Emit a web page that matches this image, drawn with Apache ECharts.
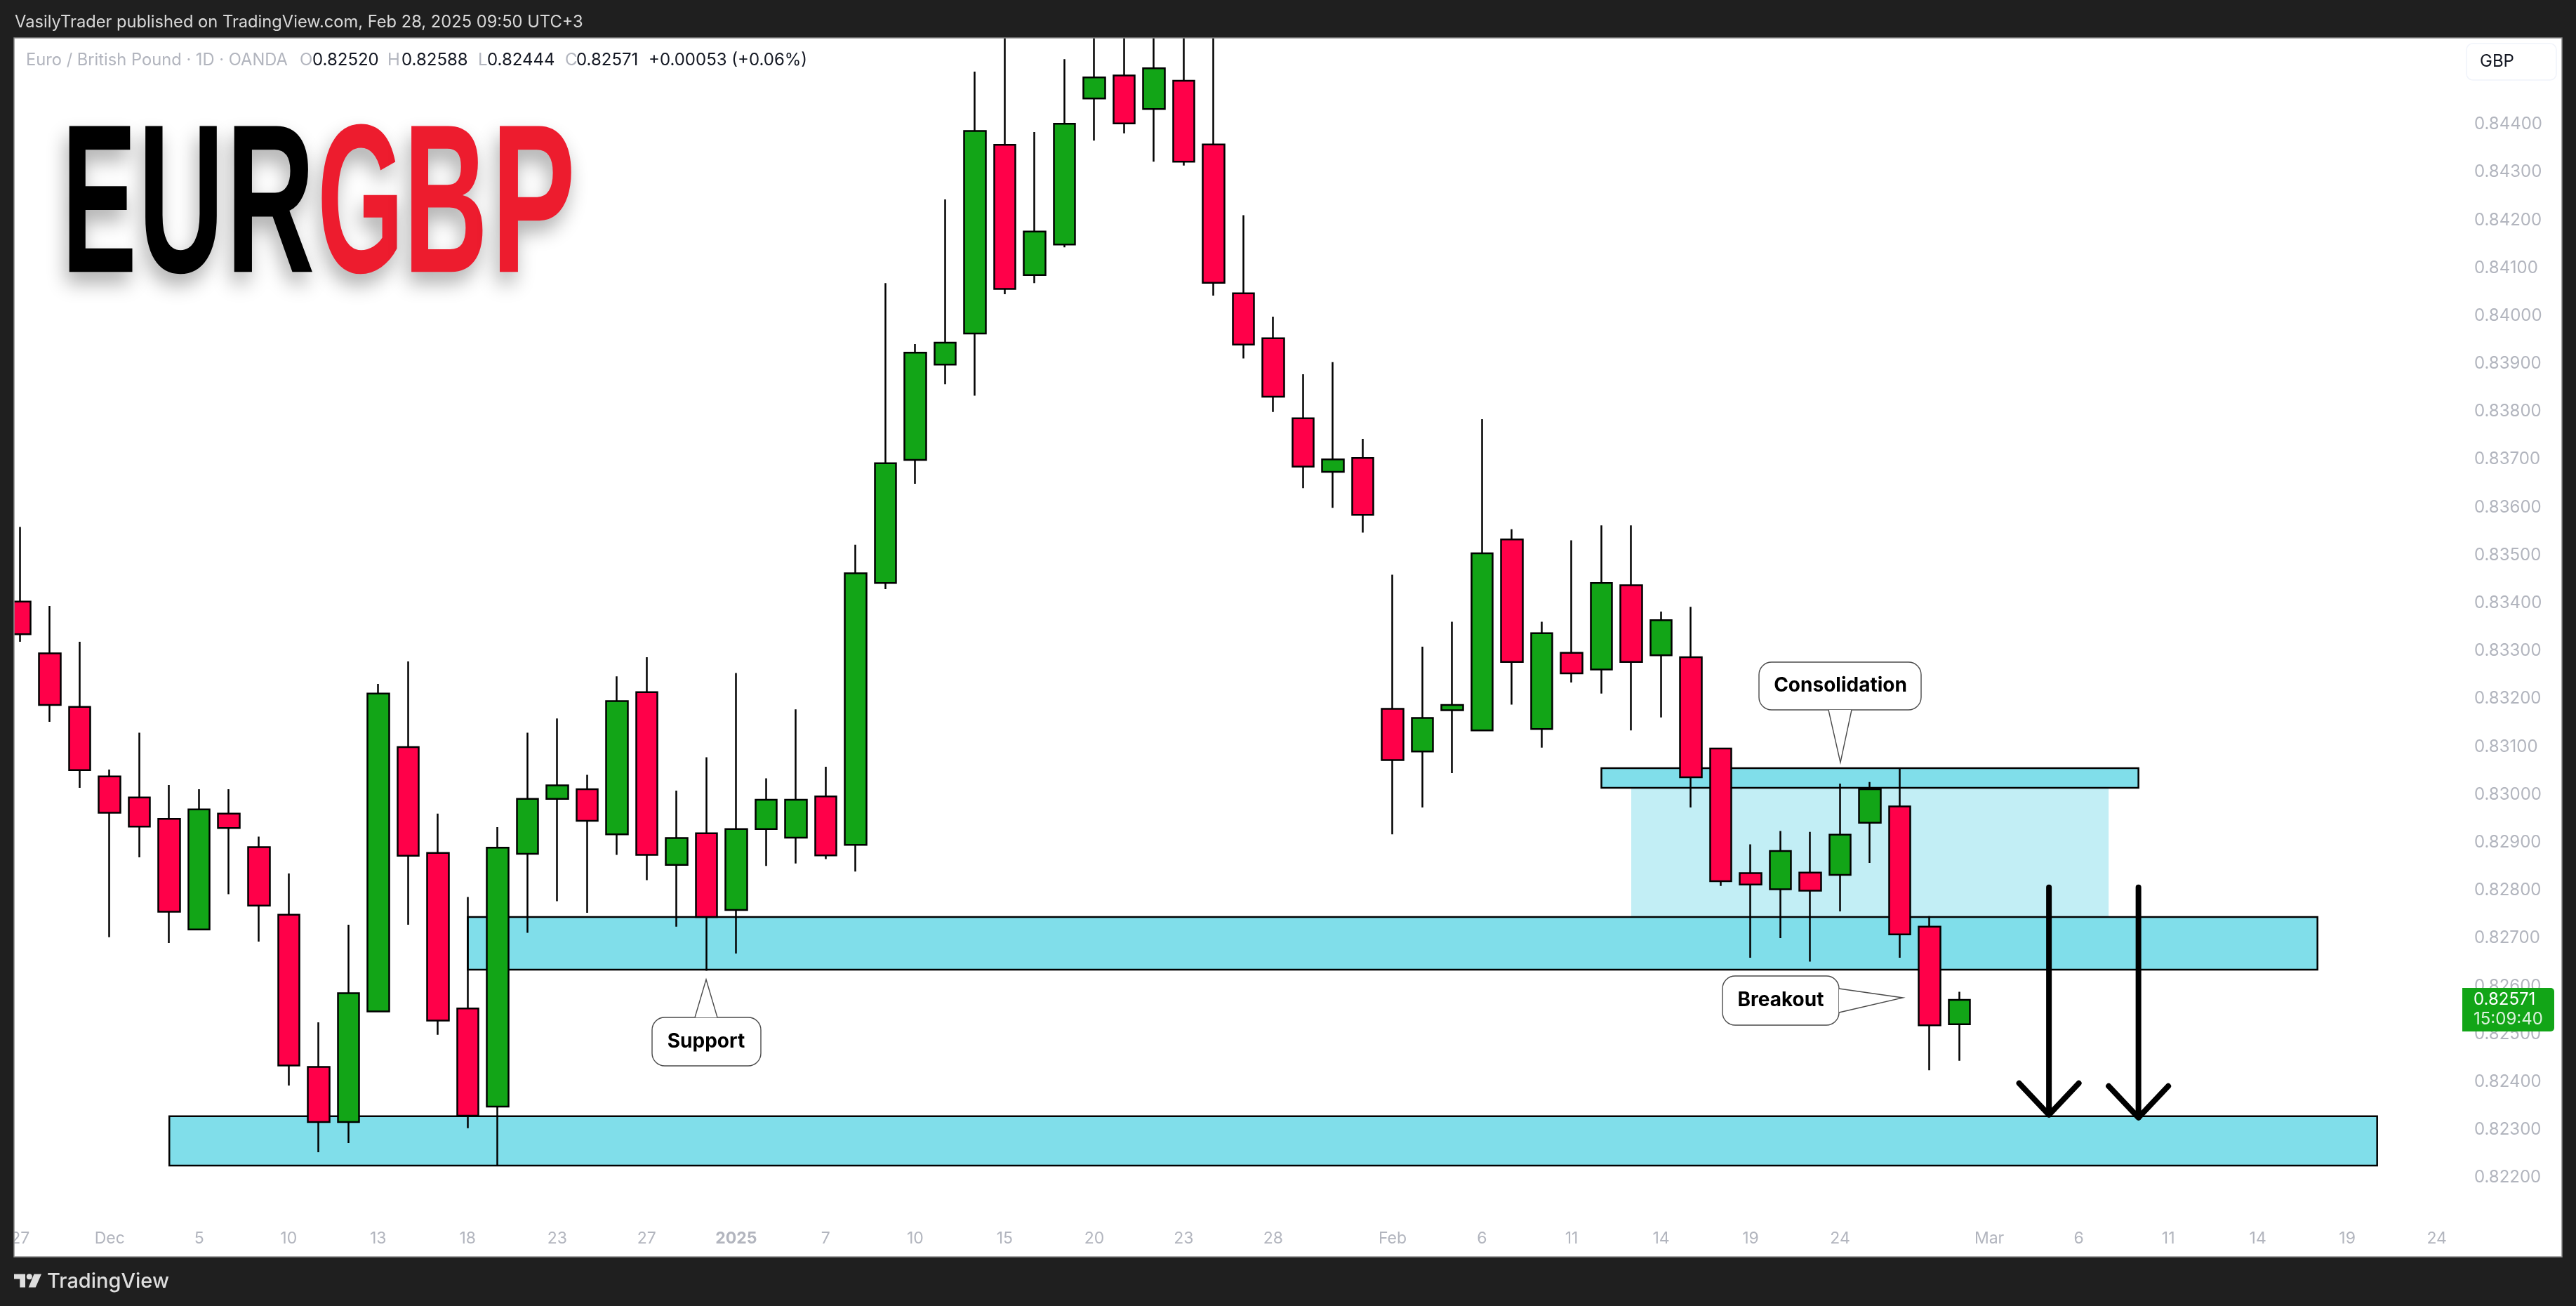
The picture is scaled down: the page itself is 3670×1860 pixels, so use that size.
<!DOCTYPE html>
<html>
<head>
<meta charset="utf-8">
<title>EURGBP</title>
<style>
    html, body { margin: 0; padding: 0; background: #1f1f1f; }
    #main { width: 3670px; height: 1860px; }
</style>
<script src="https://cdn.jsdelivr.net/npm/echarts@6/dist/echarts.min.js"></script>
</head>
<body>
<div id="main"></div>
<script>
// daily bars, Nov 27 2024 to Feb 28 2025
var opens = [.83403,.83295,.83183,.83038,.82994,.82949,.82718,.82960,.82890,.82749,.82431,.82316,.82547,.83099,.82878,.82553,.82348,.82876,.82991,.83011,.82917,.83214,.82853,.82919,.82759,.82928,.82910,.82996,.82895,.83442,.83699,.83898,.83963,.84357,.84085,.84149,.84454,.84502,.84432,.84491,.84358,.84047,.83953,.83786,.83674,.83703,.83179,.83090,.83176,.83134,.83533,.83137,.83296,.83261,.83437,.83291,.83287,.83096,.82836,.82802,.82837,.82832,.82941,.82975,.82724,.82520];
var closes = [.83335,.83187,.83051,.82962,.82933,.82755,.82969,.82930,.82768,.82434,.82316,.82585,.83211,.82872,.82528,.82329,.82889,.82991,.83019,.82945,.83195,.82874,.82909,.82744,.82928,.82989,.82989,.82873,.83462,.83692,.83923,.83944,.84386,.84056,.84176,.84401,.84498,.84402,.84517,.84322,.84069,.83940,.83831,.83685,.83700,.83584,.83072,.83160,.83187,.83504,.83277,.83337,.83253,.83442,.83277,.83364,.83036,.82819,.82812,.82882,.82799,.82916,.83011,.82708,.82518,.82571];
var lows = [.83319,.83152,.83014,.82702,.82869,.82690,.82718,.82792,.82693,.82392,.82253,.82272,.82547,.82728,.82498,.82303,.82226,.82711,.82777,.82753,.82874,.82821,.82724,.82632,.82668,.82851,.82856,.82865,.82839,.83429,.83649,.83857,.83833,.84045,.84068,.84143,.84366,.84381,.84322,.84314,.84042,.83911,.83799,.83640,.83599,.83547,.82917,.82973,.83045,.83134,.83188,.83098,.83234,.83211,.83134,.83161,.82973,.82809,.82659,.82700,.82651,.82756,.82857,.82659,.82424,.82444];
var highs = [.83559,.83394,.83319,.83052,.83129,.83020,.83011,.83011,.82912,.82835,.82524,.82728,.83231,.83278,.82960,.82786,.82932,.83129,.83159,.83041,.83247,.83287,.83008,.83078,.83254,.83034,.83178,.83058,.83522,.84068,.83941,.84243,.84510,.84650,.84384,.84536,.84640,.84650,.84660,.84630,.84660,.84210,.83998,.83878,.83903,.83743,.83459,.83309,.83361,.83784,.83554,.83361,.83531,.83562,.83562,.83382,.83392,.83096,.82896,.82924,.82922,.83023,.83026,.83054,.82746,.82588];

// trading days, then the empty days the time scale runs on to
var categories = ['2024-11-27','2024-11-28','2024-11-29','2024-12-02','2024-12-03','2024-12-04','2024-12-05','2024-12-06','2024-12-09','2024-12-10','2024-12-11','2024-12-12','2024-12-13','2024-12-16','2024-12-17','2024-12-18','2024-12-19','2024-12-20','2024-12-23','2024-12-24','2024-12-26','2024-12-27','2024-12-30','2024-12-31','2025-01-02','2025-01-03','2025-01-06','2025-01-07','2025-01-08','2025-01-09','2025-01-10','2025-01-13','2025-01-14','2025-01-15','2025-01-16','2025-01-17','2025-01-20','2025-01-21','2025-01-22','2025-01-23','2025-01-24','2025-01-27','2025-01-28','2025-01-29','2025-01-30','2025-01-31','2025-02-03','2025-02-04','2025-02-05','2025-02-06','2025-02-07','2025-02-10','2025-02-11','2025-02-12','2025-02-13','2025-02-14','2025-02-17','2025-02-18','2025-02-19','2025-02-20','2025-02-21','2025-02-24','2025-02-25','2025-02-26','2025-02-27','2025-02-28','2025-03-03','2025-03-04','2025-03-05','2025-03-06','2025-03-07','2025-03-10','2025-03-11','2025-03-12','2025-03-13','2025-03-14','2025-03-17','2025-03-18','2025-03-19','2025-03-20','2025-03-21','2025-03-24'];
var timeTicks = ['2024-11-27','2024-12-02','2024-12-05','2024-12-10','2024-12-13','2024-12-18','2024-12-23','2024-12-27','2025-01-02','2025-01-07','2025-01-10','2025-01-15','2025-01-20','2025-01-23','2025-01-28','2025-02-03','2025-02-06','2025-02-11','2025-02-14','2025-02-19','2025-02-24','2025-03-03','2025-03-06','2025-03-11','2025-03-14','2025-03-19','2025-03-24'];
var timeLabels = ['27','Dec','5','10','13','18','23','27','2025','7','10','15','20','23','28','Feb','6','11','14','19','24','Mar','6','11','14','19','24'];
var priceTicks = [.822,.823,.824,.825,.826,.827,.828,.829,.83,.831,.832,.833,.834,.835,.836,.837,.838,.839,.84,.841,.842,.843,.844];

// zones: [from day, to day, top price, bottom price]
var zoneSupport = ['2024-12-18','2025-03-18',.82744,.82634];
var zoneTarget = ['2024-12-04','2025-03-20',.82328,.82225];
var zoneTop = ['2025-02-12','2025-03-10',.83055,.83014];
var zoneBox = ['2025-02-13','2025-03-07',.83014,.82744];

var arrowOne = [['2025-03-05',.82806],['2025-03-05',.82331],['2025-03-04',.82397],['2025-03-05',.82331],['2025-03-06',.82397]];
var arrowTwo = [['2025-03-10',.82806],['2025-03-10',.82325],['2025-03-07',.82391],['2025-03-10',.82325],['2025-03-11',.82391]];

var font = 'Inter, "Noto Sans", sans-serif';
var candles = opens.map(function (o, i) {
    return [o, closes[i], lows[i], highs[i]];
});

function zoneArea(zone, color, border) {
    return [{
        xAxis: zone[0], yAxis: zone[2],
        itemStyle: { color: color, borderColor: '#000', borderWidth: border }
    }, {
        xAxis: zone[1], yAxis: zone[3]
    }];
}

function label(text, x, y, size, color, weight, align) {
    return {
        type: 'text', x: x, y: y, z: 60,
        style: {
            text: text, x: 0, y: 0, fill: color,
            fontSize: size, fontFamily: font, fontWeight: weight || 'normal',
            textAlign: align || 'left', textVerticalAlign: 'middle'
        }
    };
}

function bubble(box, tail, text, tx, ty) {
    return [{
        type: 'rect', z: 50,
        shape: { x: box[0], y: box[1], width: box[2] - box[0], height: box[3] - box[1], r: 18 },
        style: { fill: '#fff', stroke: '#4a4a4a', lineWidth: 1.4 }
    }, {
        type: 'polyline', z: 51,
        shape: { points: tail },
        style: { fill: '#fff', stroke: '#4a4a4a', lineWidth: 1.4 }
    }, label(text, tx, ty, 28, '#000', 'bold', 'center')];
}

// the big heading is one squeezed letter at a time
function letter(text, x, color, scale) {
    return {
        type: 'text', x: x, y: 304, scaleX: scale, z: 40,
        style: {
            text: text, x: 0, y: 0, fill: color,
            fontSize: 302, fontFamily: '"Liberation Sans"', fontWeight: 'bold',
            textAlign: 'left', textVerticalAlign: 'middle',
            textShadowColor: 'rgba(0,0,0,0.32)', textShadowBlur: 28,
            textShadowOffsetX: -4, textShadowOffsetY: 16
        }
    };
}

var graphics = [
    // sheet behind the plot
    { type: 'rect', z: -1, shape: { x: 20, y: 54, width: 3630, height: 1736 }, style: { fill: '#fff' } },
    // frame covers the first bar and the wicks where the pane cuts them
    { type: 'rect', z: 30, shape: { x: 0, y: 0, width: 20, height: 1860 }, style: { fill: '#1f1f1f' } },
    { type: 'rect', z: 30, shape: { x: 0, y: 0, width: 3670, height: 54 }, style: { fill: '#1f1f1f' } },
    { type: 'rect', z: 31, shape: { x: 20, y: 54, width: 3630, height: 1736 }, style: { fill: 'none', stroke: '#8c8c8c', lineWidth: 1.5 } },

    label('VasilyTrader published on TradingView.com, Feb 28, 2025 09:50 UTC+3', 21, 32, 23.7, '#d8d8d8'),

    label('Euro / British Pound · 1D · OANDA', 37, 86, 23.7, '#b2b5be'),
    label('O', 427, 86, 24, '#b2b5be'), label('0.82520', 445, 86, 24, '#131722'),
    label('H', 552, 86, 24, '#b2b5be'), label('0.82588', 572, 86, 24, '#131722'),
    label('L', 681, 86, 24, '#b2b5be'), label('0.82444', 694, 86, 24, '#131722'),
    label('C', 805, 86, 24, '#b2b5be'), label('0.82571', 821, 86, 24, '#131722'),
    label('+0.00053 (+0.06%)', 924, 86, 24, '#131722'),

    letter('E', 88, '#000', 0.53),
    letter('U', 197, '#000', 0.56),
    letter('R', 322, '#000', 0.58),
    letter('G', 452, '#ed1c2e', 0.525),
    letter('B', 575, '#ed1c2e', 0.55),
    letter('P', 700, '#ed1c2e', 0.595),

    // currency badge
    { type: 'rect', z: 40, shape: { x: 3514, y: 62, width: 128, height: 52, r: 9 }, style: { fill: '#fff', stroke: '#f0f3fa', lineWidth: 1.5 } },
    label('GBP', 3533, 88, 24, '#131722'),

    // last price tag
    { type: 'rect', z: 40, shape: { x: 3508, y: 1407, width: 131, height: 62, r: [0, 5, 5, 0] }, style: { fill: '#12a517' } },
    label('0.82571', 3524, 1424, 24, '#fff'),
    label('15:09:40', 3524, 1452, 24, 'rgba(255,255,255,0.85)'),

    // footer logo
    { type: 'polygon', shape: { points: [[20, 1814.5], [36, 1814.5], [36, 1833.5], [28.3, 1833.5], [28.3, 1821.5], [20, 1821.5]] }, style: { fill: '#dedede' } },
    { type: 'circle', shape: { cx: 41.8, cy: 1818.3, r: 4 }, style: { fill: '#dedede' } },
    { type: 'polygon', shape: { points: [[48.5, 1814.5], [59, 1814.5], [50.7, 1833.5], [40.7, 1833.5]] }, style: { fill: '#dedede' } },
    label('TradingView', 67, 1825, 29, '#dedede', 500)
].concat(
    bubble([2506, 943, 2737, 1011], [[2605, 1011], [2622, 1086], [2638, 1011]], 'Consolidation', 2622, 977),
    bubble([2454, 1390, 2620, 1460], [[2620, 1408], [2711, 1421], [2620, 1442]], 'Breakout', 2537, 1425),
    bubble([929, 1449, 1084, 1518], [[990, 1449], [1006, 1395], [1022, 1449]], 'Support', 1006, 1484)
);

var option = {
    animation: false,
    backgroundColor: '#1f1f1f',
    grid: { left: 7.45, top: 54, width: 3485.5, height: 1736 },
    xAxis: {
        type: 'category',
        data: categories,
        axisLine: { show: false },
        axisTick: { show: false },
        splitLine: { show: false },
        axisLabel: {
            inside: true,
            margin: 14,
            fontSize: 23,
            fontFamily: font,
            color: '#b2b5be',
            interval: function (i, name) {
                return timeTicks.indexOf(name) >= 0;
            },
            formatter: function (name) {
                var t = timeLabels[timeTicks.indexOf(name)];
                return t === '2025' ? '{year|' + t + '}' : t;
            },
            rich: { year: { fontSize: 23, fontWeight: 'bold', fontFamily: font, color: '#b2b5be' } }
        }
    },
    yAxis: {
        type: 'value',
        position: 'right',
        scale: true,
        min: 0.820343,
        max: 0.845804,
        axisLine: { show: false },
        axisTick: { show: false },
        splitLine: { show: false },
        axisLabel: {
            margin: 32,
            fontSize: 24,
            fontFamily: font,
            color: '#b2b5be',
            customValues: priceTicks,
            formatter: function (v) {
                return v.toFixed(5);
            }
        }
    },
    series: [{
        type: 'candlestick',
        data: candles,
        barWidth: 31,
        z: 5,
        itemStyle: {
            color: '#12a517',
            color0: '#ff0049',
            borderColor: '#000',
            borderColor0: '#000',
            borderWidth: 2.5
        },
        markArea: {
            silent: true,
            data: [
                zoneArea(zoneBox, '#c2eef5', 0),
                zoneArea(zoneTop, '#80deea', 2.5),
                zoneArea(zoneSupport, '#80deea', 2.5),
                zoneArea(zoneTarget, '#80deea', 2.5)
            ]
        }
    }, {
        type: 'line', data: arrowOne, showSymbol: false, z: 6,
        lineStyle: { color: '#000', width: 8, cap: 'round', join: 'round' }
    }, {
        type: 'line', data: arrowTwo, showSymbol: false, z: 6,
        lineStyle: { color: '#000', width: 8, cap: 'round', join: 'round' }
    }],
    graphic: { elements: graphics }
};

var chart = echarts.init(document.getElementById('main'));
chart.setOption(option);
</script>
</body>
</html>
